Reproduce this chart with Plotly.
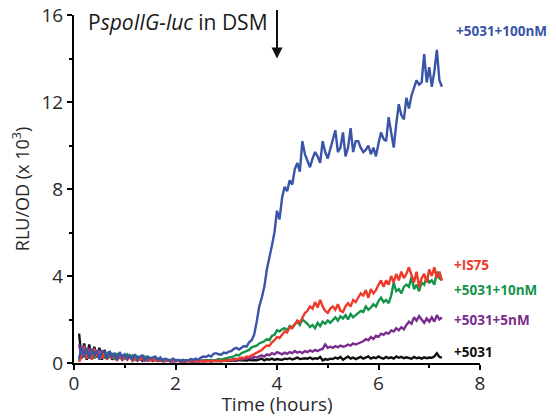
import plotly.graph_objects as go

# time grid (hours), 0.10 .. 7.25 in 0.05 h steps
time_h = [round(0.10 + 0.05 * k, 2) for k in range(144)]

blue_100nM = [
    0.2, 0.75, 0.3, 0.7, 0.2, 0.65, 0.35, 0.6, 0.15, 0.55,
    0.5, 0.2, 0.55, 0.3, 0.45, 0.15, 0.5, 0.25, 0.4, 0.2,
    0.35, 0.15, 0.4, 0.2, 0.3, 0.35, 0.1, 0.3, 0.2, 0.25,
    0.3, 0.15, 0.25, 0.1, 0.2, 0.15, 0.1, 0.2, 0.1, 0.15,
    0.1, 0.15, 0.1, 0.12, 0.18, 0.15, 0.2, 0.15, 0.25, 0.3,
    0.28, 0.35, 0.3, 0.42, 0.45, 0.4, 0.38, 0.48, 0.45, 0.52,
    0.55, 0.65, 0.7, 0.62, 0.72, 0.78, 0.75, 0.95, 1.05, 1.3,
    1.9, 2.6, 3.0, 3.5, 4.3, 4.8, 5.4, 6.0, 7.0, 6.6,
    7.6, 8.1, 7.9, 8.4, 8.2, 8.9, 9.2, 8.8, 10.2, 9.6,
    9.3, 9.0, 9.4, 9.7, 9.5, 9.2, 10.2, 9.7, 9.4, 9.8,
    10.3, 10.7, 9.7, 9.9, 10.6, 9.5, 9.9, 10.8, 9.7, 10.2,
    10.2, 9.9, 9.7, 9.8, 10.0, 9.6, 9.9, 9.5, 10.1, 10.6,
    10.3, 10.2, 11.3, 10.6, 9.9, 11.0, 11.9, 11.4, 11.2, 12.2,
    11.7, 12.3, 12.7, 13.0, 12.8, 12.9, 14.2, 12.9, 13.6, 12.7,
    13.4, 14.4, 13.0, 12.7,
]

red_IS75 = [
    0.05, 0.3, 0.75, 0.2, 0.6, 0.15, 0.65, 0.3, 0.55, 0.2,
    0.5, 0.15, 0.45, 0.25, 0.4, 0.1, 0.35, 0.2, 0.3, 0.15,
    0.3, 0.1, 0.25, 0.2, 0.15, 0.25, 0.1, 0.2, 0.12, 0.18,
    0.15, 0.1, 0.18, 0.08, 0.12, 0.1, 0.15, 0.08, 0.1, 0.12,
    0.08, 0.1, 0.06, 0.1, 0.08, 0.12, 0.07, 0.1, 0.08, 0.1,
    0.08, 0.1, 0.07, 0.09, 0.12, 0.1, 0.08, 0.12, 0.1, 0.14,
    0.12, 0.15, 0.2, 0.18, 0.25, 0.22, 0.3, 0.28, 0.35, 0.4,
    0.45, 0.55, 0.6, 0.72, 0.8, 0.78, 0.95, 1.05, 1.2, 1.15,
    1.3, 1.45, 1.4, 1.65, 1.6, 1.8, 1.95, 1.85, 2.1, 2.3,
    2.4, 2.6, 2.5, 2.8, 2.55, 2.9, 2.6, 2.4, 2.3, 2.5,
    2.6, 2.45, 2.7, 2.4, 2.35, 2.6, 2.75, 2.6, 2.9, 2.8,
    3.0, 3.2, 3.1, 3.35, 3.0, 3.4, 3.2, 3.35, 3.6, 3.8,
    3.5, 3.8, 3.6, 4.0, 3.7, 4.1, 3.8, 4.2, 3.9, 4.1,
    4.4, 4.0, 3.7, 4.2, 3.5, 3.9, 4.1, 3.7, 4.3, 4.0,
    4.4, 3.9, 4.2, 3.8,
]

green_10nM = [
    0.1, 0.7, 0.25, 0.65, 0.3, 0.6, 0.2, 0.55, 0.25, 0.5,
    0.2, 0.5, 0.3, 0.45, 0.15, 0.4, 0.25, 0.35, 0.2, 0.4,
    0.25, 0.35, 0.15, 0.3, 0.25, 0.2, 0.3, 0.15, 0.25, 0.2,
    0.15, 0.2, 0.12, 0.18, 0.1, 0.15, 0.12, 0.1, 0.15, 0.1,
    0.12, 0.08, 0.1, 0.12, 0.08, 0.1, 0.12, 0.1, 0.08, 0.12,
    0.1, 0.12, 0.14, 0.1, 0.15, 0.18, 0.15, 0.2, 0.22, 0.25,
    0.28, 0.3, 0.38, 0.35, 0.45, 0.5, 0.55, 0.6, 0.72, 0.75,
    0.8, 0.9, 0.95, 1.0, 1.1, 1.05, 1.25, 1.3, 1.5, 1.45,
    1.55, 1.6, 1.5, 1.7, 1.65, 1.8, 1.9, 1.75, 2.0, 1.9,
    1.8, 1.65, 1.75, 1.6, 1.85, 1.7, 1.9, 1.8, 1.95, 1.85,
    2.0, 2.1, 1.95, 2.15, 2.05, 2.2, 2.0, 2.25, 2.1, 2.2,
    2.3, 2.4, 2.35, 2.6, 2.45, 2.55, 2.7, 2.6, 2.85, 3.0,
    2.8, 2.9, 2.75, 3.1, 3.7, 3.3, 3.4, 3.2, 3.5, 3.6,
    3.5, 3.95, 3.4, 3.6, 3.3, 3.7, 3.6, 3.95, 3.7, 3.8,
    3.6, 4.2, 3.9, 3.8,
]

purple_5nM = [
    0.85, 0.3, 0.8, 0.2, 0.7, 0.35, 0.65, 0.25, 0.6, 0.3,
    0.55, 0.2, 0.5, 0.25, 0.4, 0.3, 0.35, 0.15, 0.3, 0.2,
    0.3, 0.15, 0.25, 0.1, 0.2, 0.15, 0.2, 0.1, 0.15, 0.12,
    0.15, 0.08, 0.12, 0.1, 0.08, 0.12, 0.06, 0.1, 0.08, 0.1,
    0.06, 0.08, 0.05, 0.1, 0.07, 0.05, 0.08, 0.06, 0.1, 0.07,
    0.08, 0.1, 0.06, 0.12, 0.09, 0.14, 0.1, 0.12, 0.15, 0.12,
    0.14, 0.18, 0.12, 0.2, 0.15, 0.22, 0.18, 0.25, 0.2, 0.28,
    0.25, 0.3, 0.35, 0.3, 0.4, 0.35, 0.45, 0.4, 0.5, 0.45,
    0.4, 0.48, 0.42, 0.5, 0.45, 0.55, 0.48, 0.52, 0.46, 0.55,
    0.5, 0.58, 0.52, 0.6, 0.55, 0.62, 0.65, 0.85, 0.7, 0.75,
    0.7, 0.78, 0.72, 0.8, 0.75, 0.78, 0.85, 0.8, 0.9, 0.85,
    0.9, 0.95, 1.0, 1.1, 1.05, 1.2, 1.1, 1.25, 1.2, 1.35,
    1.3, 1.4, 1.35, 1.5, 1.45, 1.6, 1.5, 1.65, 1.55, 1.75,
    1.9, 1.8, 2.1, 1.95, 2.15, 2.0, 1.85, 2.05, 1.9, 2.1,
    1.9, 2.2, 2.0, 2.1,
]

black_5031 = [
    1.35, 0.2, 0.9, 0.15, 0.85, 0.2, 0.75, 0.25, 0.7, 0.15,
    0.6, 0.2, 0.5, 0.15, 0.45, 0.2, 0.4, 0.15, 0.35, 0.2,
    0.3, 0.12, 0.25, 0.15, 0.2, 0.1, 0.22, 0.12, 0.18, 0.1,
    0.15, 0.1, 0.12, 0.08, 0.14, 0.1, 0.12, 0.08, 0.1, 0.12,
    0.1, 0.08, 0.12, 0.1, 0.08, 0.1, 0.12, 0.09, 0.1, 0.08,
    0.1, 0.12, 0.09, 0.1, 0.12, 0.1, 0.08, 0.11, 0.1, 0.12,
    0.1, 0.12, 0.1, 0.14, 0.11, 0.13, 0.1, 0.15, 0.12, 0.14,
    0.12, 0.15, 0.2, 0.12, 0.18, 0.15, 0.2, 0.14, 0.18, 0.16,
    0.15, 0.2, 0.18, 0.22, 0.16, 0.2, 0.25, 0.18, 0.2, 0.22,
    0.2, 0.25, 0.18, 0.22, 0.2, 0.28, 0.12, 0.18, 0.15, 0.2,
    0.18, 0.25, 0.2, 0.28, 0.15, 0.22, 0.3, 0.2, 0.25, 0.18,
    0.22, 0.28, 0.2, 0.25, 0.3, 0.2, 0.26, 0.22, 0.3, 0.24,
    0.2, 0.28, 0.22, 0.26, 0.2, 0.3, 0.24, 0.28, 0.22, 0.26,
    0.24, 0.2, 0.28, 0.22, 0.25, 0.2, 0.26, 0.22, 0.25, 0.24,
    0.3, 0.45, 0.28, 0.25,
]

series_names = ["+5031", "+5031+5nM", "+5031+10nM", "+IS75", "+5031+100nM"]
series_values = [black_5031, purple_5nM, green_10nM, red_IS75, blue_100nM]
series_colors = ["#111111", "#7B2D8E", "#14944A", "#EE3A2A", "#3A54A8"]
label_y = [0.5, 1.98, 3.36, 4.5, 15.25]
label_colors = ["#111111", "#7B2D8E", "#14944A", "#EE3A2A", "#3A54A8"]

x_ticks = [0, 2, 4, 6, 8]
y_ticks = [0, 4, 8, 12, 16]

FONT = "Open Sans, DejaVu Sans, sans-serif"

fig = go.Figure()
for name, vals, col in zip(series_names, series_values, series_colors):
    fig.add_trace(go.Scatter(x=time_h, y=vals, mode="lines", name=name,
                             line=dict(color=col, width=2.4), showlegend=False))

for name, ly, col in zip(series_names, label_y, label_colors):
    fig.add_annotation(x=0.931 if name != "+5031+100nM" else 0.936, xref="paper",
                       y=ly, yref="y", text="<b>" + name + "</b>", showarrow=False,
                       xanchor="left", yanchor="middle",
                       font=dict(family=FONT, size=13.5, color=col))

fig.add_annotation(x=0.03, xref="paper", y=15.68, yref="y",
                   text="P<i>spoIIG-luc</i> in DSM", showarrow=False,
                   xanchor="left", yanchor="middle",
                   font=dict(family=FONT, size=21, color="#1a1a1a"))

fig.add_annotation(x=4, y=14.0, xref="x", yref="y", ax=0, ay=-50,
                   showarrow=True, arrowhead=2, arrowsize=1.1, arrowwidth=2,
                   arrowcolor="#111111", text="")

fig.update_layout(
    width=548, height=409,
    margin=dict(l=66, r=76, t=7, b=54, autoexpand=False),
    paper_bgcolor="white", plot_bgcolor="white",
    font=dict(family=FONT, size=19, color="#2a2a2a"),
    xaxis=dict(range=[0, 8], tickvals=x_ticks, showline=True, linecolor="black",
               linewidth=2, ticks="outside", ticklen=5, tickwidth=2, tickcolor="black",
               showgrid=False, zeroline=False, automargin=False,
               ticklabeloverflow="allow", ticklabelstandoff=-3,
               minor=dict(dtick=1, tick0=0, ticks="outside", ticklen=3, tickwidth=1.5,
                          tickcolor="black", showgrid=False),
               title=dict(text="Time (hours)", standoff=9, font=dict(size=19)),
               tickfont=dict(size=19)),
    yaxis=dict(range=[0, 16], tickvals=y_ticks, showline=True, linecolor="black",
               linewidth=2, ticks="outside", ticklen=5, tickwidth=2, tickcolor="black",
               showgrid=False, zeroline=False, automargin=False,
               ticklabeloverflow="allow",
               minor=dict(dtick=2, tick0=0, ticks="outside", ticklen=3, tickwidth=1.5,
                          tickcolor="black", showgrid=False),
               title=dict(text="RLU/OD (x 10<sup>3</sup>)", standoff=8, font=dict(size=18)),
               tickfont=dict(size=19)),
)

fig.write_html("out.html")
